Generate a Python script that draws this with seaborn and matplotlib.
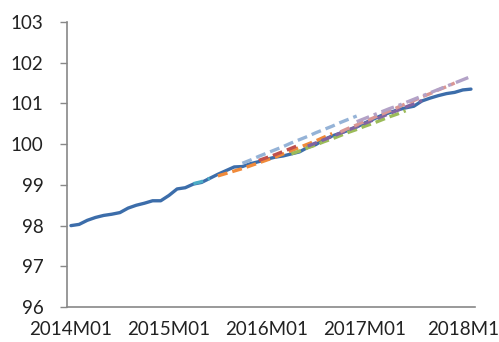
import numpy as np
import pandas as pd
import matplotlib
matplotlib.use("Agg")
import matplotlib.pyplot as plt
import seaborn as sns

# monthly index, 2014M01 .. 2018M02 (50 months)
months = [f"{y}M{m:02d}" for y in range(2014, 2019) for m in range(1, 13)][:50]
tick_labels = ["2014M01", "2015M01", "2016M01", "2017M01", "2018M1"]

actual = [98.00, 98.03, 98.13, 98.20, 98.25, 98.28, 98.32, 98.43, 98.50, 98.55,
          98.61, 98.61, 98.74, 98.90, 98.93, 99.02, 99.06, 99.16, 99.26, 99.35,
          99.44, 99.45, 99.52, 99.57, 99.63, 99.68, 99.71, 99.76, 99.81, 99.92,
          99.99, 100.11, 100.20, 100.27, 100.34, 100.42, 100.52, 100.61, 100.70, 100.77,
          100.84, 100.89, 100.93, 101.06, 101.13, 101.19, 101.24, 101.27, 101.33, 101.35]

# forecast vintages: (first month index, values)
f_teal = (15, [99.03, 99.08, 99.16])
f_orange = (18, [99.22, 99.28, 99.34, 99.40, 99.47, 99.54, 99.61, 99.68, 99.76, 99.84,
                 99.92, 100.00, 100.08, 100.17, 100.26])
f_lightblue = (21, [99.53, 99.61, 99.70, 99.78, 99.86, 99.94, 100.03, 100.11, 100.19, 100.28,
                    100.36, 100.44, 100.53, 100.61, 100.69])
f_red = (23, [99.60, 99.67, 99.74, 99.82, 99.90, 99.98])
f_green = (27, [99.76, 99.83, 99.91, 99.98, 100.06, 100.13, 100.21, 100.29, 100.36, 100.44,
                100.51, 100.59, 100.67, 100.74, 100.82])
f_purple = (29, [99.95, 100.03, 100.11, 100.19, 100.27, 100.35, 100.43, 100.51, 100.59, 100.67,
                 100.75, 100.83, 100.91, 100.99, 101.07])
f_salmon = (33, [100.30, 100.39, 100.47, 100.56, 100.64, 100.73, 100.81, 100.90, 100.99, 101.07,
                 101.16, 101.24, 101.33, 101.41, 101.50])
f_lavender = (35, [100.55, 100.63, 100.71, 100.79, 100.87, 100.94, 101.02, 101.10, 101.18, 101.26,
                   101.34, 101.42, 101.50, 101.58, 101.66])

sns.set_style("white")
plt.rcParams['font.family'] = ['Lato', 'DejaVu Sans']

fig = plt.figure(figsize=(4.99, 3.42), dpi=100)
ax = fig.add_axes([0.134, 0.102, 0.818, 0.834])

x = np.arange(len(actual))
sns.lineplot(x=x, y=actual, ax=ax, color="#3C6DAA", lw=2.4, solid_capstyle="round")

forecasts = [
    (f_teal, "#4BACC6", (3, 1.5)),
    (f_orange, "#F08A3A", (3, 1.5)),
    (f_lightblue, "#95B3D7", (3, 1.5)),
    (f_red, "#C0504D", (3, 1.5)),
    (f_green, "#9BBB59", (3, 1.5)),
    (f_purple, "#8064A2", (3, 1.5)),
    (f_salmon, "#D99694", (3, 1.5)),
    (f_lavender, "#B3A2C7", (4, 1.5, 1, 1.5)),
]
for (start, vals), col, dash in forecasts:
    xs = np.arange(start, start + len(vals))
    sns.lineplot(x=xs, y=vals, ax=ax, color=col, lw=2.4, linestyle=(0, dash))

ax.set_xlim(-0.5, len(actual) - 0.5)
ax.set_ylim(96, 103)
ax.set_yticks(range(96, 104))
ax.set_xticks([0, 12, 24, 36, 48])
ax.set_xticklabels(tick_labels)
ax.set_xticks(np.arange(-0.5, len(actual), 1), minor=True)

ax.tick_params(axis="x", which="major", length=0, pad=10, labelsize=13.5, colors="#222222")
ax.tick_params(axis="x", which="minor", length=4, width=1, color="#888888", direction="out")
ax.tick_params(axis="y", length=5, width=1, color="#888888", direction="out", pad=12,
               labelsize=13.5, labelcolor="#222222")
ax.tick_params(axis="both", bottom=True, left=True)
for s in ["top", "right"]:
    ax.spines[s].set_visible(False)
for s in ["left", "bottom"]:
    ax.spines[s].set_color("#888888")
    ax.spines[s].set_linewidth(1.2)
ax.set_xlabel("")
ax.set_ylabel("")
ax.grid(False)

fig.savefig("out.png", dpi=100)
